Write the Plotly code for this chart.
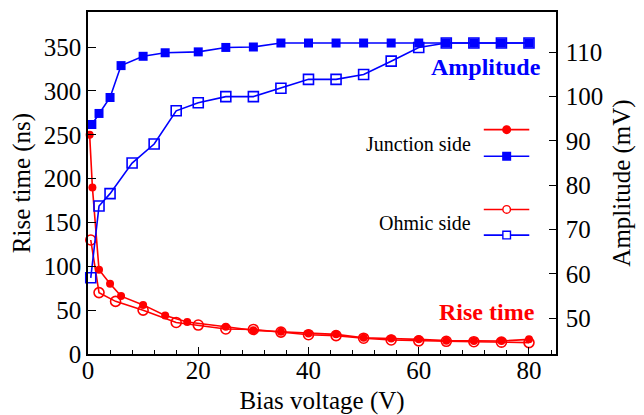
import plotly.graph_objects as go

# rise time (ns), left axis
rise_junction_v = [0.3, 0.8, 2, 4, 6, 10, 14, 18, 25, 30, 35, 40, 45, 50, 55, 60, 65, 70, 75, 80]
rise_junction = [250, 190, 96, 80, 66, 56, 44, 36.5, 31, 27, 25.4, 23.5, 22.4, 18.6, 17.8, 16.7, 15.2, 14.8, 14.8, 16.7]
rise_ohmic_v = [0.5, 2, 5, 10, 16, 20, 25, 30, 35, 40, 45, 50, 55, 60, 65, 70, 75, 80]
rise_ohmic = [130, 70, 60, 50, 36, 33, 28.5, 28, 25, 22, 21, 18, 16, 15, 14.5, 14, 13.5, 13]

# amplitude (mV), right axis
amp_junction_v = [0.7, 2, 4, 6, 10, 14, 20, 25, 30, 35, 40, 45, 50, 55, 60, 65, 70, 75, 80]
amp_junction = [93.7, 96.2, 99.8, 107.0, 109.1, 109.9, 110.1, 111.1, 111.2, 112.1, 112.1, 112.1, 112.1, 112.1, 112.1, 112.1, 112.1, 112.1, 112.1]
amp_ohmic_v = [0.5, 2, 4, 8, 12, 16, 20, 25, 30, 35, 40, 45, 50, 55, 60, 65, 70, 75, 80]
amp_ohmic = [59.1, 75.3, 78.1, 85.0, 89.3, 96.8, 98.6, 100, 100, 101.9, 103.9, 103.9, 105.0, 108.0, 111.1, 112.1, 112.1, 112.1, 112.1]

RED = "#ff0000"
BLUE = "#0000ff"
FONT = "Liberation Serif"

fig = go.Figure()

fig.add_trace(go.Scatter(x=amp_junction_v, y=amp_junction, yaxis="y2", mode="lines+markers",
                         line=dict(color=BLUE, width=1.6), cliponaxis=False,
                         marker=dict(symbol="square", size=9, color=BLUE)))
fig.add_trace(go.Scatter(x=amp_ohmic_v, y=amp_ohmic, yaxis="y2", mode="lines+markers",
                         line=dict(color=BLUE, width=1.6), cliponaxis=False,
                         marker=dict(symbol="square-open", size=10, color=BLUE, line=dict(width=1.6))))
fig.add_trace(go.Scatter(x=rise_junction_v, y=rise_junction, mode="lines+markers",
                         line=dict(color=RED, width=1.6), cliponaxis=False,
                         marker=dict(symbol="circle", size=8, color=RED)))
fig.add_trace(go.Scatter(x=rise_ohmic_v, y=rise_ohmic, mode="lines+markers",
                         line=dict(color=RED, width=1.6), cliponaxis=False,
                         marker=dict(symbol="circle-open", size=10, color=RED, line=dict(width=1.6))))

# hand-drawn legend: two sample lines per label, text on the left
x_l0, x_l1, x_mk = 0.8457, 0.9429, 0.8946
samples = [
    (0.656, RED, "circle", RED),
    (0.5784, BLUE, "rect", BLUE),
    (0.4227, RED, "circle", "white"),
    (0.3476, BLUE, "rect", "white"),
]
for yy, col, kind, fill in samples:
    fig.add_shape(type="line", xref="paper", yref="paper", x0=x_l0, x1=x_l1, y0=yy, y1=yy,
                  line=dict(color=col, width=1.6))
    fig.add_shape(type=kind, xref="paper", yref="paper", xsizemode="pixel", ysizemode="pixel",
                  xanchor=x_mk, yanchor=yy, x0=-3.8, x1=3.8, y0=-3.8, y1=3.8,
                  fillcolor=fill, line=dict(color=col, width=1.4))

fig.add_annotation(text="Junction side", xref="paper", yref="paper", x=0.8226, y=0.6135,
                   xanchor="right", yanchor="middle", showarrow=False, font=dict(size=20, color="black"))
fig.add_annotation(text="Ohmic side", xref="paper", yref="paper", x=0.8226, y=0.3836,
                   xanchor="right", yanchor="middle", showarrow=False, font=dict(size=20, color="black"))
fig.add_annotation(text="<b>Amplitude</b>", xref="paper", yref="paper", x=0.9722, y=0.8393,
                   xanchor="right", yanchor="middle", showarrow=False, font=dict(size=24, color=BLUE))
fig.add_annotation(text="<b>Rise time</b>", xref="paper", yref="paper", x=0.9588, y=0.1236,
                   xanchor="right", yanchor="middle", showarrow=False, font=dict(size=24, color=RED))

axis_common = dict(showgrid=False, zeroline=False, showline=True, linecolor="black", linewidth=1.5,
                   ticks="inside", tickcolor="black", tickwidth=1.2, automargin=False,
                   tickfont=dict(size=25, color="black"))

# the page puts the plot 8px in from the top-left corner, so trim that off
fig.update_layout(
    width=636, height=407,
    margin=dict(l=80, r=88, t=4, b=61),
    paper_bgcolor="white", plot_bgcolor="white",
    font=dict(family=FONT, color="black"),
    showlegend=False,
    xaxis=dict(axis_common, range=[0, 84.9], dtick=20, ticklen=7, mirror=True, ticklabelstandoff=-7,
               minor=dict(dtick=4, ticks="inside", ticklen=4, tickcolor="black", tickwidth=1.2),
               title=dict(text="Bias voltage (V)", font=dict(size=25), standoff=10)),
    yaxis=dict(axis_common, range=[0, 390], dtick=50, ticklen=8,
               title=dict(text="Rise time (ns)", font=dict(size=25), standoff=10)),
    yaxis2=dict(axis_common, range=[41.9, 119.1], dtick=10, ticklen=7, overlaying="y", side="right",
                ticklabelstandoff=3,
                title=dict(text="Amplitude (mV)", font=dict(size=25), standoff=10)),
)

fig.write_html("out.html")
